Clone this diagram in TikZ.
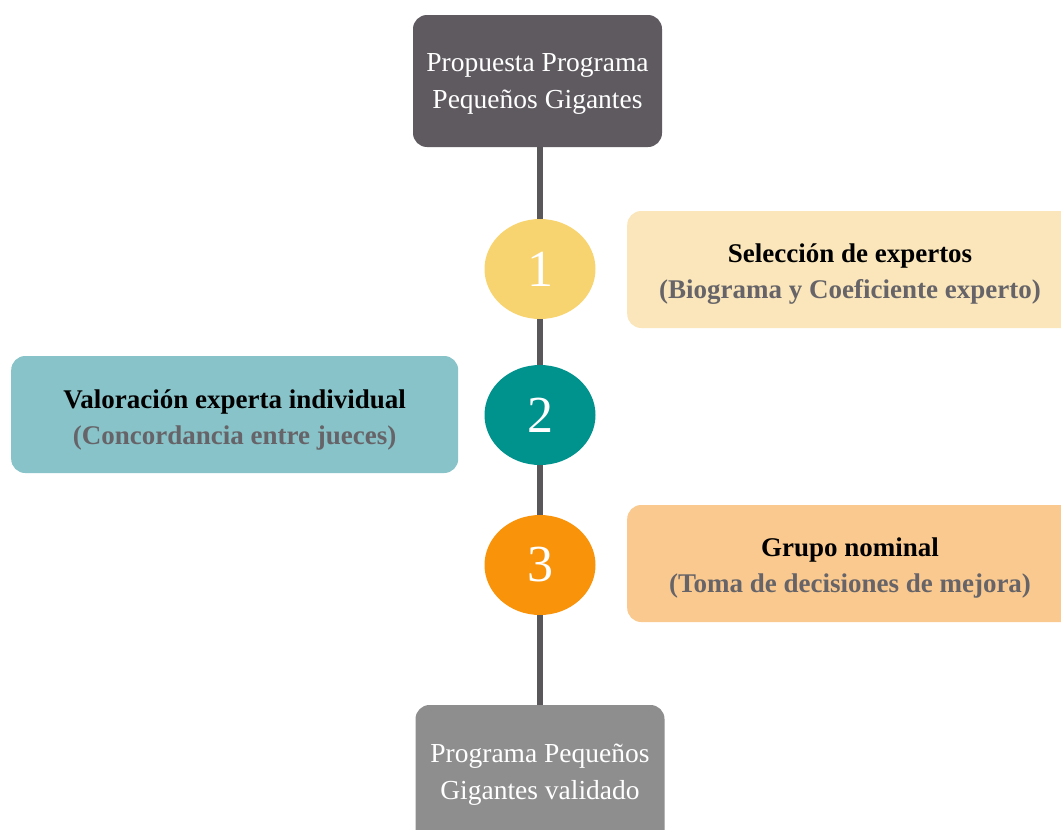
\documentclass[tikz,border=0pt]{standalone}
\usetikzlibrary{shapes.geometric}
\usepackage{fontspec}
\setmainfont{Liberation Serif}
\definecolor{topgray}{HTML}{5F5A60}
\definecolor{botgray}{HTML}{8E8E8E}
\definecolor{linegray}{HTML}{5A575B}
\definecolor{cyellow}{HTML}{F8D470}
\definecolor{byellow}{HTML}{FAE6BA}
\definecolor{cteal}{HTML}{00928D}
\definecolor{bteal}{HTML}{87C3C8}
\definecolor{corange}{HTML}{F8930A}
\definecolor{borange}{HTML}{F9C98F}
\definecolor{subgray}{HTML}{666468}
\begin{document}
\begin{tikzpicture}[x=1pt,y=-1pt,
  endbox/.style={rounded corners=14pt, minimum width=249pt, minimum height=132pt, inner sep=0pt},
  endtext/.style={text=white, align=center, font=\fontsize{27.5}{37}\selectfont, inner sep=0pt},
  stepcircle/.style={ellipse, minimum width=111pt, minimum height=100pt, inner sep=0pt},
  stepnum/.style={text=white, font=\fontsize{52}{52}\selectfont, inner sep=0pt},
  infobox/.style={rounded corners=14pt, minimum height=117pt, inner sep=0pt},
  infotext/.style={align=center, inner sep=0pt, font=\fontsize{27}{36}\selectfont\bfseries},
  connector/.style={draw=linegray, line width=5.5pt}]
\useasboundingbox (0,0) rectangle (1061,830);
\node[endbox, fill=topgray] (top) at (537.5,81) {};
\node[endtext] (toptext) at ([yshift=-3pt]top.center) {Propuesta Programa\\Pequeños Gigantes};
\node[endbox, fill=botgray, minimum height=140pt] (bot) at (540,775) {};
\node[endtext] (bottext) at ([yshift=0pt]bot.center) {Programa Pequeños\\Gigantes validado};
\node[stepcircle, fill=cyellow] (c1) at (540,269) {};
\node[stepcircle, fill=cteal] (c2) at (540,415) {};
\node[stepcircle, fill=corange] (c3) at (540,565) {};
\draw[connector] (c1.north |- top.south) -- (c1.north);
\draw[connector] (c1.south) -- (c2.north);
\draw[connector] (c2.south) -- (c3.north);
\draw[connector] (c3.south) -- (c3.south |- bot.north);
\node[stepnum] (n1) at (c1) {1};
\node[stepnum] (n2) at (c2) {2};
\node[stepnum] (n3) at (c3) {3};
\node[infobox, fill=byellow, minimum width=450pt, anchor=west] (b1) at (627,269.5) {};
\node[infotext] (t1) at ([yshift=-5pt]b1.center -| 850,0) {\textcolor{black}{Selección de expertos}\\\textcolor{subgray}{(Biograma y Coeficiente experto)}};
\node[infobox, fill=bteal, minimum width=447pt, anchor=west] (b2) at (11,414.5) {};
\node[infotext] (t2) at ([yshift=-5pt]b2.center) {\textcolor{black}{Valoración experta individual}\\\textcolor{subgray}{(Concordancia entre jueces)}};
\node[infobox, fill=borange, minimum width=450pt, anchor=west] (b3) at (627,563.5) {};
\node[infotext] (t3) at ([yshift=-5pt]b3.center -| 850,0) {\textcolor{black}{Grupo nominal}\\\textcolor{subgray}{(Toma de decisiones de mejora)}};
\end{tikzpicture}
\end{document}
